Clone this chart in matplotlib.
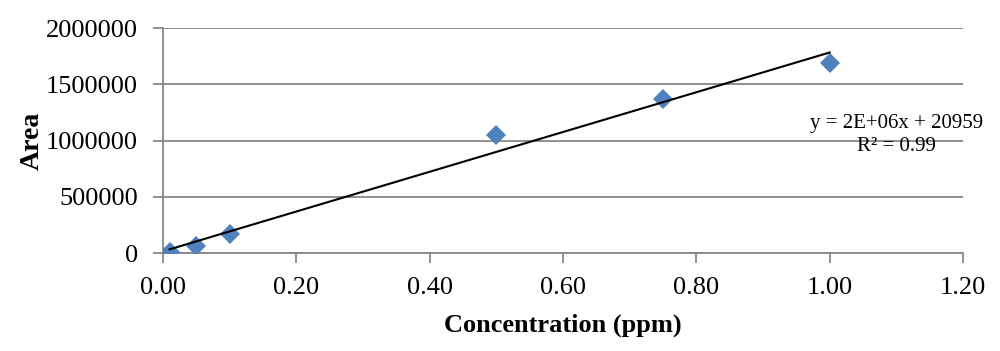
import numpy as np
import matplotlib
matplotlib.use('Agg')
import matplotlib.pyplot as plt

plt.rcParams['font.family'] = ['Liberation Serif', 'DejaVu Serif']

# calibration data
conc = [0.01, 0.05, 0.10, 0.50, 0.75, 1.00]
area = [10000, 65000, 169000, 1049000, 1369000, 1692000]
x_ticks = [0.0, 0.2, 0.4, 0.6, 0.8, 1.0, 1.2]
y_ticks = [0, 500000, 1000000, 1500000, 2000000]
eq_text = 'y = 2E+06x + 20959\nR² = 0.99'

fit = np.polyfit(conc, area, deg=1)
line_x = np.array([min(conc), max(conc)])
line_y = np.poly1d(fit)(line_x)

fig = plt.figure(figsize=(10, 3.51), dpi=100)
ax = fig.add_axes([0.163, 0.279, 0.800, 0.641])

grid_c = '#878787'
ax.set_axisbelow(True)
ax.grid(axis='y', color=grid_c, linewidth=1.3)
ax.plot(conc, area, 'D', color='#4F81BD', markersize=10.5, markeredgewidth=0, zorder=3)
ax.plot(line_x, line_y, color='black', linewidth=1.5, zorder=4)

ax.set_xlim(0, 1.2)
ax.set_ylim(0, 2000000)
ax.set_xticks(x_ticks)
ax.set_xticklabels(['{:.2f}'.format(v) for v in x_ticks])
ax.set_yticks(y_ticks)
ax.set_yticklabels([str(v) for v in y_ticks])
ax.tick_params(axis='both', labelsize=19, color=grid_c, width=1.3, length=7)
ax.tick_params(axis='x', pad=10)
ax.tick_params(axis='y', pad=11)

for s in ['top', 'right']:
    ax.spines[s].set_visible(False)
for s in ['left', 'bottom']:
    ax.spines[s].set_color(grid_c)
    ax.spines[s].set_linewidth(1.3)

ax.set_xlabel('Concentration (ppm)', fontsize=19, fontweight='bold', labelpad=11)
ax.set_ylabel('Area', fontsize=20, fontweight='bold', labelpad=1)

ax.text(1.1, 1050000, eq_text, fontsize=15, ha='center', va='center', linespacing=1.3)

fig.savefig('out.png', dpi=100)
